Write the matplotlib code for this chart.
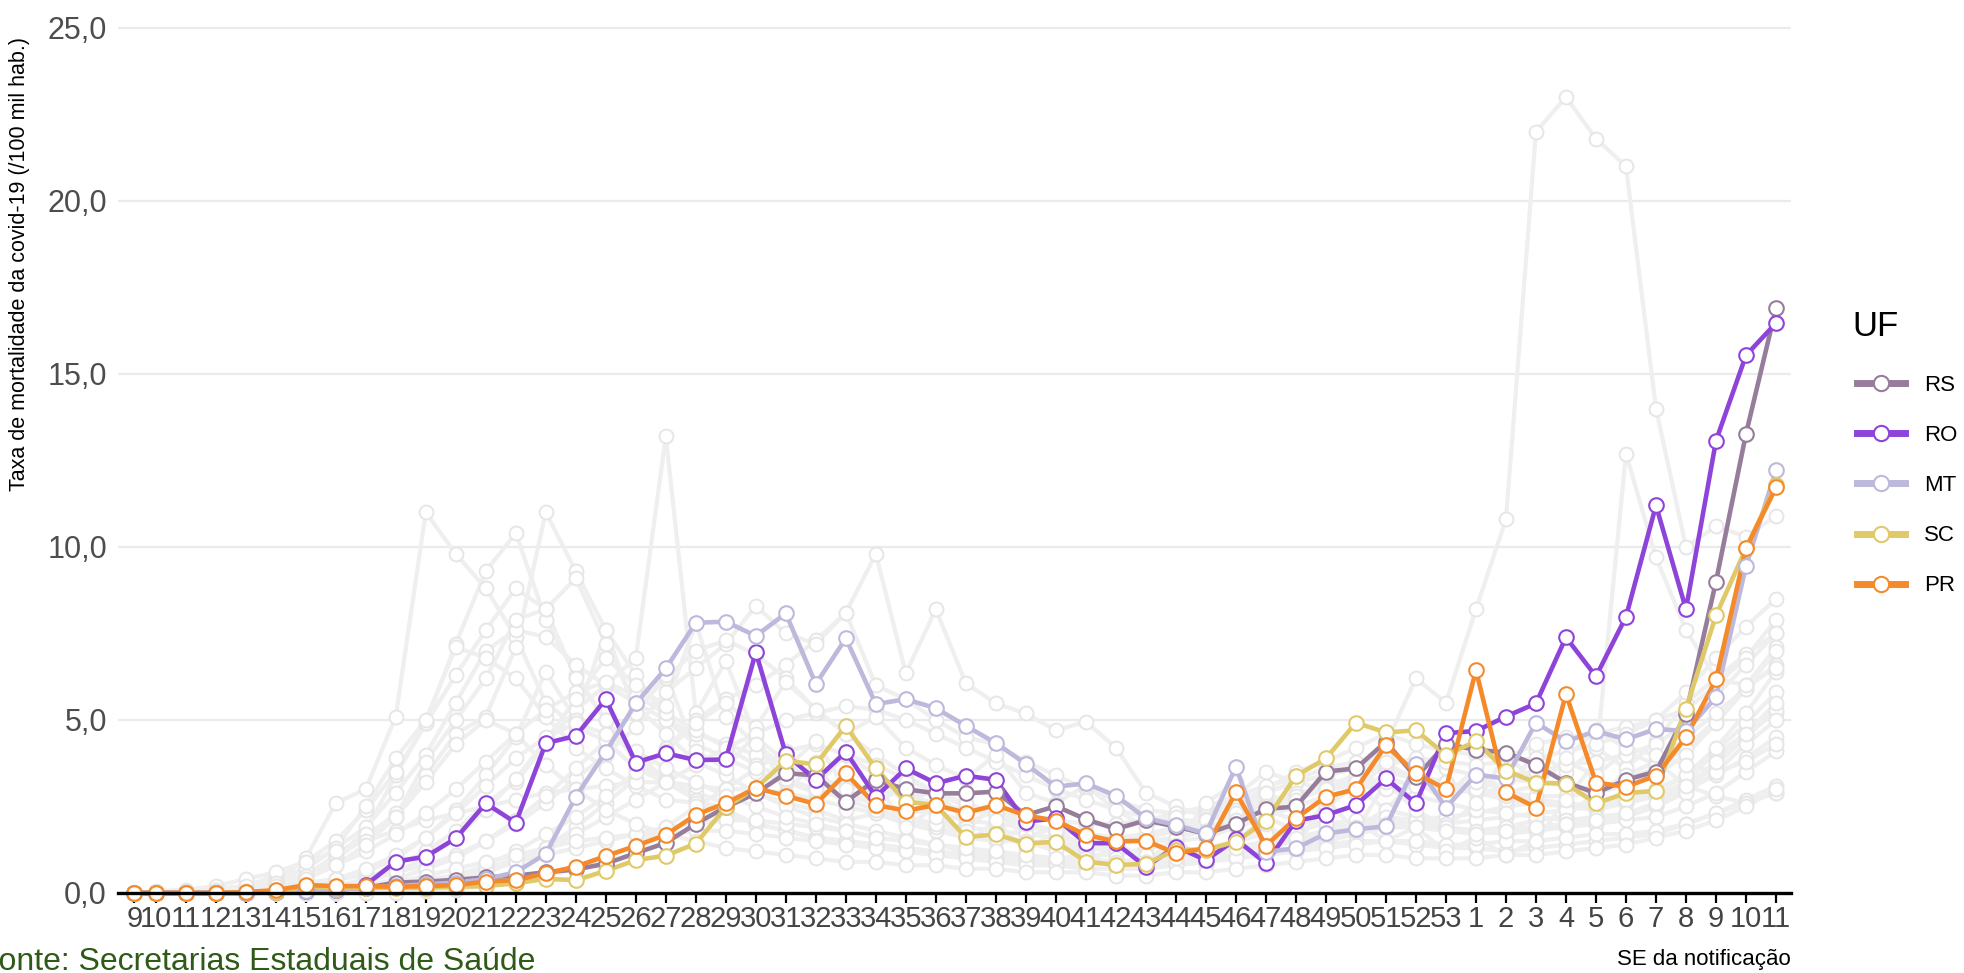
import matplotlib
matplotlib.use("Agg")
import matplotlib.pyplot as plt
import matplotlib.dates as mdates
from matplotlib.lines import Line2D
import numpy as np
import pandas as pd

plt.rcParams['font.family'] = ['Liberation Sans', 'DejaVu Sans']

# ---------------- data ----------------
semanas = [str(w) for w in range(9, 54)] + [str(w) for w in range(1, 12)]
# date of each point (first point: first notification, 2020-02-25; then start of each SE)
datas = [pd.Timestamp("2020-02-25")] + list(pd.date_range("2020-03-01", periods=55, freq="7D"))

uf_destaque = ["RS", "RO", "MT", "SC", "PR"]
cores = {"RS": "#977d9c", "RO": "#8e44d9", "MT": "#bdb9dc", "SC": "#e0c968", "PR": "#f58a2b"}

RS = ([0, 0, 0, 0, 0.02, 0.03, 0.05, 0.10, 0.15, 0.30] +
      [0.33, 0.38, 0.45, 0.50, 0.60, 0.68, 0.85, 1.15, 1.45, 2.00] +
      [2.48, 2.88, 3.46, 3.40, 2.64, 3.27, 3.00, 2.88, 2.88, 2.93] +
      [2.25, 2.51, 2.13, 1.85, 2.10, 1.92, 1.71, 2.00, 2.43, 2.50] +
      [3.51, 3.60, 4.37, 3.34, 4.30] +
      [4.14, 4.06, 3.70, 3.19, 2.89, 3.27, 3.51, 5.18, 9.00, 13.27, 16.90])
RO = ([0, 0, 0, 0, 0, 0.02, 0.05, 0.10, 0.23, 0.91] +
      [1.05, 1.58, 2.59, 2.03, 4.33, 4.54, 5.60, 3.77, 4.04, 3.84] +
      [3.86, 6.96, 4.01, 3.27, 4.08, 2.78, 3.60, 3.17, 3.39, 3.27] +
      [2.06, 2.16, 1.44, 1.44, 0.76, 1.34, 0.95, 1.55, 0.86, 2.09] +
      [2.25, 2.54, 3.31, 2.59, 4.62] +
      [4.68, 5.10, 5.48, 7.39, 6.26, 7.98, 11.20, 8.20, 13.07, 15.54, 16.47])
MT = ([0, 0, 0, 0, 0, 0.02, 0.05, 0.10, 0.15, 0.20] +
      [0.25, 0.30, 0.40, 0.60, 1.13, 2.78, 4.08, 5.48, 6.49, 7.81] +
      [7.84, 7.43, 8.08, 6.04, 7.36, 5.46, 5.60, 5.34, 4.83, 4.33] +
      [3.73, 3.07, 3.17, 2.81, 2.16, 1.97, 1.72, 3.65, 1.19, 1.29] +
      [1.72, 1.84, 1.93, 3.72, 2.47] +
      [3.42, 3.31, 4.92, 4.38, 4.68, 4.44, 4.74, 4.68, 5.66, 9.45, 12.22])
SC = ([0, 0, 0, 0, 0.02, 0.03, 0.20, 0.15, 0.15, 0.15] +
      [0.15, 0.18, 0.20, 0.28, 0.41, 0.37, 0.64, 0.95, 1.08, 1.43] +
      [2.48, 3.03, 3.82, 3.72, 4.83, 3.60, 2.64, 2.54, 1.61, 1.70] +
      [1.43, 1.48, 0.91, 0.81, 0.84, 1.25, 1.25, 1.48, 2.09, 3.38] +
      [3.89, 4.92, 4.64, 4.70, 3.99] +
      [4.38, 3.54, 3.19, 3.16, 2.59, 2.89, 2.95, 5.33, 8.02, 9.96, 11.80])
PR = ([0, 0, 0, 0, 0.03, 0.08, 0.23, 0.20, 0.20, 0.18] +
      [0.20, 0.23, 0.33, 0.37, 0.57, 0.76, 1.07, 1.36, 1.68, 2.26] +
      [2.60, 3.03, 2.81, 2.57, 3.46, 2.54, 2.38, 2.54, 2.32, 2.54] +
      [2.24, 2.09, 1.68, 1.49, 1.51, 1.15, 1.29, 2.91, 1.37, 2.16] +
      [2.78, 3.00, 4.27, 3.46, 3.00] +
      [6.44, 2.91, 2.47, 5.75, 3.19, 3.07, 3.39, 4.50, 6.17, 9.96, 11.72])
destaque = {"RS": RS, "RO": RO, "MT": MT, "SC": SC, "PR": PR}

# other states (grey background)
g01 = ([0, 0, 0, 0, 0.05, 0.30, 1.00, 2.60, 3.00, 5.10] + [11.00, 9.80, 8.80, 7.40, 5.50, 4.80, 4.40, 3.60, 3.20, 2.90] +
       [2.60, 2.90, 2.60, 2.40, 2.10, 2.30, 2.00, 1.80, 1.60, 1.50] + [1.50, 1.30, 1.20, 1.40, 1.60, 1.90, 2.20, 2.80, 3.50, 3.20] +
       [3.00, 3.30, 4.30, 6.20, 5.50] + [8.20, 10.80, 22.00, 23.00, 21.80, 21.00, 14.00, 10.00, 10.60, 10.30, 10.90])
g02 = ([0, 0, 0, 0, 0, 0.10, 0.40, 1.00, 1.80, 3.40] + [4.90, 7.20, 9.30, 10.40, 7.90, 6.30, 5.00, 4.00, 3.30, 2.70] +
       [2.40, 2.00, 1.80, 1.60, 1.50, 1.40, 1.30, 1.20, 1.10, 1.00] + [1.00, 0.90, 0.90, 0.90, 0.80, 0.80, 0.90, 1.00, 1.20, 1.30] +
       [1.50, 1.70, 1.90, 2.10, 2.20] + [2.30, 2.50, 2.60, 2.50, 2.60, 2.80, 3.00, 3.40, 4.00, 4.60, 5.20])
g03 = ([0, 0, 0, 0, 0, 0.20, 0.50, 1.00, 1.60, 2.30] + [3.40, 4.60, 5.10, 7.10, 11.00, 9.30, 7.60, 6.30, 5.00, 4.30] +
       [3.90, 3.50, 3.20, 2.90, 2.80, 2.60, 2.40, 2.30, 2.10, 2.00] + [1.90, 1.80, 1.70, 1.60, 1.50, 1.50, 1.60, 1.90, 2.20, 2.50] +
       [2.80, 3.00, 3.30, 3.10, 3.00] + [2.90, 2.70, 2.60, 2.50, 2.40, 2.60, 2.80, 3.20, 4.10, 4.90, 5.80])
g04 = ([0, 0, 0, 0, 0, 0, 0, 0.20, 0.40, 0.80] + [1.20, 1.80, 2.60, 3.20, 4.30, 5.30, 6.00, 6.80, 13.20, 5.20] +
       [6.70, 4.50, 3.80, 3.10, 4.00, 3.40, 2.60, 3.00, 2.00, 2.40] + [1.60, 1.90, 1.20, 1.50, 0.90, 1.30, 0.80, 1.50, 2.20, 1.80] +
       [2.50, 3.10, 2.40, 3.30, 2.80] + [3.60, 2.90, 4.10, 3.50, 4.20, 3.60, 4.40, 5.50, 6.20, 6.90, 7.50])
g05 = ([0, 0, 0, 0, 0, 0, 0, 0, 0.05, 0.10] + [0.20, 0.40, 0.60, 0.90, 1.30, 1.90, 2.60, 3.30, 4.20, 5.00] +
       [5.60, 6.00, 6.60, 7.30, 8.10, 9.80, 6.35, 8.20, 6.06, 5.48] + [5.19, 4.70, 4.95, 4.20, 2.90, 2.50, 2.20, 2.60, 3.00, 3.50] +
       [3.80, 4.20, 4.60, 4.30, 4.10] + [4.00, 3.90, 4.30, 4.50, 4.60, 4.80, 5.00, 5.30, 6.00, 6.80, 7.90])
g06 = ([0, 0, 0.05, 0.10, 0.15, 0.20, 0.30, 0.40, 0.50, 0.60] + [0.80, 1.10, 1.50, 2.00, 2.60, 3.30, 4.00, 4.80, 5.80, 6.50] +
       [7.20, 8.30, 7.50, 7.20, 8.10, 6.00, 5.60, 5.00, 4.50, 4.30] + [3.80, 3.40, 3.00, 2.70, 2.40, 2.30, 2.40, 2.60, 2.90, 3.20] +
       [3.40, 3.70, 3.90, 3.80, 3.60] + [3.40, 3.30, 3.20, 3.10, 3.00, 3.30, 3.60, 4.20, 5.00, 6.00, 7.10])
g07 = ([0, 0, 0.05, 0.10, 0.20, 0.40, 0.70, 1.30, 1.90, 2.90] + [4.00, 5.50, 7.00, 7.60, 7.40, 6.60, 6.00, 5.50, 5.00, 4.60] +
       [4.30, 4.00, 3.60, 3.30, 3.10, 3.00, 2.80, 2.60, 2.40, 2.30] + [2.20, 2.10, 2.00, 2.00, 2.10, 2.30, 2.50, 2.80, 3.10, 3.30] +
       [3.60, 3.80, 3.60, 3.40, 3.20] + [3.00, 2.80, 2.70, 2.60, 2.50, 2.60, 2.80, 3.00, 3.40, 3.90, 4.50])
g08 = ([0, 0, 0.05, 0.10, 0.20, 0.50, 0.90, 1.50, 2.40, 3.50] + [4.90, 6.30, 7.60, 8.80, 8.20, 6.20, 5.00, 3.80, 3.20, 2.70] +
       [2.30, 2.00, 1.80, 1.60, 1.50, 1.40, 1.20, 1.10, 1.00, 0.90] + [0.90, 0.80, 0.80, 0.90, 1.00, 1.10, 1.20, 1.30, 1.50, 1.60] +
       [1.80, 2.00, 2.10, 2.00, 1.90] + [1.80, 1.70, 1.80, 1.90, 2.00, 2.20, 2.50, 3.00, 3.70, 4.50, 5.30])
g09 = ([0, 0, 0, 0, 0.10, 0.20, 0.50, 1.10, 1.70, 2.20] + [3.80, 5.00, 6.20, 7.90, 8.20, 9.10, 7.20, 5.40, 4.60, 3.80] +
       [3.40, 2.90, 2.50, 2.20, 2.00, 1.80, 1.60, 1.40, 1.20, 1.20] + [1.00, 1.00, 1.10, 1.10, 1.30, 1.40, 2.60, 3.20, 2.40, 2.10] +
       [2.00, 1.90, 2.40, 2.20, 1.90] + [1.80, 1.90, 2.10, 2.20, 2.90, 3.40, 3.80, 3.10, 2.80, 2.60, 2.90])
g10 = ([0, 0, 0, 0, 0.10, 0.30, 0.70, 1.30, 2.50, 3.90] + [5.00, 7.10, 6.80, 6.20, 5.10, 4.20, 3.60, 3.10, 2.70, 2.60] +
       [2.30, 2.00, 1.80, 1.60, 1.50, 1.40, 1.30, 1.20, 1.10, 1.00] + [1.00, 0.90, 0.90, 0.80, 0.80, 0.90, 1.00, 1.10, 1.20, 1.30] +
       [1.40, 1.50, 1.50, 1.40, 1.30] + [1.30, 1.20, 1.30, 1.40, 1.50, 1.60, 1.70, 2.00, 2.30, 2.70, 3.10])
g11 = ([0, 0.05, 0.10, 0.20, 0.40, 0.60, 0.90, 1.20, 1.50, 1.80] + [2.10, 2.30, 2.50, 2.70, 2.90, 3.00, 3.10, 3.20, 3.20, 3.10] +
       [3.00, 3.00, 2.90, 2.70, 2.50, 2.30, 2.10, 1.90, 1.70, 1.60] + [1.50, 1.40, 1.30, 1.20, 1.10, 1.20, 1.30, 1.50, 1.70, 1.80] +
       [2.00, 2.10, 2.20, 2.10, 2.00] + [2.10, 2.20, 2.30, 2.40, 2.50, 2.70, 2.90, 3.40, 4.20, 5.20, 6.40])
g12 = ([0, 0, 0.05, 0.10, 0.20, 0.30, 0.50, 0.80, 1.20, 1.70] + [2.30, 3.00, 3.80, 4.60, 5.30, 5.80, 6.10, 5.70, 5.20, 4.70] +
       [4.20, 3.70, 3.30, 3.00, 2.70, 2.40, 2.20, 2.00, 1.90, 1.80] + [1.70, 1.60, 1.50, 1.50, 1.60, 1.80, 2.10, 2.50, 2.90, 3.20] +
       [3.40, 3.60, 3.50, 3.30, 3.20] + [3.00, 2.90, 2.80, 2.80, 2.90, 3.10, 3.40, 4.00, 4.90, 5.90, 7.00])
g13 = ([0, 0, 0, 0, 0, 0, 0, 0.10, 0.20, 0.40] + [0.70, 1.00, 1.50, 2.10, 2.80, 3.60, 4.40, 5.30, 6.20, 7.00] +
       [7.30, 6.90, 6.20, 5.30, 4.60, 4.00, 3.40, 2.90, 2.50, 2.20] + [2.00, 1.80, 1.70, 1.60, 1.70, 1.90, 2.10, 2.40, 2.60, 2.90] +
       [3.00, 3.10, 3.00, 2.80, 2.60] + [2.40, 2.30, 2.20, 2.10, 2.20, 2.30, 2.50, 2.90, 3.50, 4.30, 5.00])
g14 = ([0, 0, 0, 0, 0, 0, 0, 0, 0.10, 0.20] + [0.30, 0.50, 0.70, 1.00, 1.30, 1.70, 2.20, 2.70, 3.20, 3.70] +
       [4.20, 4.60, 5.00, 5.20, 5.40, 5.30, 5.00, 4.60, 4.20, 3.80] + [3.40, 3.00, 2.70, 2.40, 2.20, 2.10, 2.10, 2.30, 2.50, 2.80] +
       [3.10, 3.40, 3.70, 3.90, 3.80] + [3.70, 3.80, 3.90, 4.10, 4.30, 4.60, 5.00, 5.80, 6.80, 7.70, 8.50])
g15 = ([0, 0, 0, 0, 0, 0, 0, 0, 0, 0.10] + [0.30, 0.50, 0.80, 1.20, 1.70, 2.20, 2.80, 3.50, 4.10, 4.90] +
       [5.50, 4.80, 6.10, 5.30, 4.60, 5.10, 4.20, 3.70, 3.30, 4.00] + [2.90, 2.60, 3.10, 2.40, 1.90, 2.20, 1.80, 2.30, 2.90, 2.50] +
       [3.40, 2.90, 3.80, 3.20, 2.70] + [3.30, 2.90, 3.10, 3.80, 3.40, 4.10, 3.70, 4.50, 5.20, 5.90, 6.60])
g16 = ([0, 0, 0, 0, 0, 0.05, 0.10, 0.15, 0.20, 0.30] + [0.40, 0.50, 0.70, 0.90, 1.10, 1.30, 1.50, 1.70, 1.90, 2.00] +
       [2.10, 2.10, 2.00, 1.90, 1.80, 1.60, 1.50, 1.40, 1.20, 1.10] + [1.00, 0.90, 0.90, 0.80, 0.80, 0.90, 1.00, 1.10, 1.30, 1.50] +
       [1.60, 1.80, 1.90, 1.90, 1.80] + [1.80, 1.90, 1.90, 2.00, 2.00, 2.10, 2.20, 2.50, 2.90, 3.50, 4.10])
g17 = ([0, 0, 0, 0, 0, 0, 0.05, 0.10, 0.20, 0.30] + [0.50, 0.70, 0.90, 1.10, 1.30, 1.50, 1.60, 1.70, 1.70, 1.80] +
       [1.80, 1.70, 1.60, 1.50, 1.40, 1.30, 1.20, 1.10, 1.00, 0.90] + [0.80, 0.80, 0.70, 0.70, 0.70, 0.80, 0.90, 1.00, 1.10, 1.20] +
       [1.30, 1.40, 1.50, 1.50, 1.40] + [1.40, 1.50, 1.50, 1.60, 1.70, 1.70, 1.80, 2.00, 2.30, 2.60, 2.90])
g18 = ([0, 0, 0, 0, 0, 0, 0, 0, 0, 0] + [0.05, 0.10, 0.20, 0.30, 0.50, 0.70, 1.00, 1.40, 1.90, 2.50] +
       [3.00, 3.60, 4.10, 4.30, 4.00, 3.70, 3.30, 2.90, 2.60, 2.30] + [2.00, 1.80, 1.70, 1.60, 1.50, 1.60, 1.80, 2.10, 2.50, 2.70] +
       [3.00, 3.20, 3.30, 3.10, 3.00] + [3.20, 3.40, 3.50, 3.70, 3.80, 4.00, 4.30, 4.90, 5.70, 6.60, 7.50])
g19 = ([0, 0, 0, 0, 0, 0, 0.20, 0.40, 0.60, 1.00] + [1.60, 2.40, 3.40, 4.50, 6.40, 5.00, 7.60, 5.20, 6.30, 4.10] +
       [3.60, 4.60, 2.90, 3.80, 2.40, 3.20, 1.90, 2.50, 1.40, 2.10] + [1.20, 1.80, 0.70, 1.50, 0.90, 1.60, 0.80, 1.40, 2.00, 1.30] +
       [2.70, 1.80, 3.20, 2.40, 1.90] + [2.60, 4.00, 3.20, 3.90, 4.70, 4.20, 4.00, 3.70, 3.50, 3.80, 4.30])
g20 = ([0, 0, 0, 0, 0, 0, 0, 0.10, 0.30, 0.60] + [1.00, 1.60, 2.40, 3.30, 4.40, 5.60, 6.80, 6.00, 5.40, 7.80] +
       [5.10, 4.30, 3.60, 4.40, 3.00, 2.50, 3.20, 2.20, 1.80, 2.60] + [1.50, 1.20, 1.70, 1.00, 0.70, 1.40, 0.90, 1.50, 1.10, 1.70] +
       [1.30, 2.10, 1.50, 1.90, 1.20] + [1.60, 1.10, 1.50, 2.70, 3.80, 12.70, 9.70, 7.60, 6.20, 6.00, 6.50])
g21 = ([0, 0, 0, 0, 0.05, 0.20, 0.40, 0.80, 1.40, 2.20] + [3.20, 4.30, 5.00, 4.60, 3.70, 3.00, 2.40, 2.00, 1.70, 1.50] +
       [1.30, 1.20, 1.10, 1.00, 0.90, 0.90, 0.80, 0.80, 0.70, 0.70] + [0.60, 0.60, 0.60, 0.50, 0.50, 0.60, 0.60, 0.70, 0.80, 0.90] +
       [1.00, 1.10, 1.10, 1.00, 1.00] + [1.00, 1.10, 1.10, 1.20, 1.30, 1.40, 1.60, 1.80, 2.10, 2.50, 3.00])
g22 = ([0, 0, 0, 0, 0, 0.10, 0.20, 0.40, 0.70, 1.10] + [1.60, 2.30, 3.10, 3.90, 4.50, 4.90, 4.60, 4.10, 3.60, 3.20] +
       [2.80, 2.50, 2.20, 2.00, 1.80, 1.60, 1.50, 1.40, 1.30, 1.20] + [1.10, 1.00, 1.00, 0.90, 0.90, 1.00, 1.10, 1.30, 1.40, 1.60] +
       [1.70, 1.90, 2.00, 1.90, 1.80] + [1.70, 1.80, 1.90, 2.00, 2.10, 2.30, 2.60, 3.10, 3.80, 4.60, 5.50])
outros = [g01, g02, g03, g04, g05, g06, g07, g08, g09, g10, g11,
          g12, g13, g14, g15, g16, g17, g18, g19, g20, g21, g22]

y_ticks = [0, 5, 10, 15, 20, 25]

# ---------------- figure ----------------
W, H = 1964, 973
fig = plt.figure(figsize=(W / 100, H / 100), dpi=100)
ax = fig.add_axes([118 / W, (H - 893) / H, (1791 - 118) / W, (893 - 21) / H])

x = mdates.date2num(datas)
gray_line = "#efefef"
gray_edge = "#e6e6e6"
for serie in outros:
    n = min(len(serie), len(x))
    ax.plot(x[:n], serie[:n], color=gray_line, lw=3.0, zorder=2, clip_on=False)
for serie in outros:
    n = min(len(serie), len(x))
    ax.plot(x[:n], serie[:n], ls="none", marker="o", ms=10, mfc="white", mec=gray_edge,
            mew=1.4, zorder=3, clip_on=False)

for uf in uf_destaque:
    s = destaque[uf]
    n = min(len(s), len(x))
    ax.plot(x[:n], s[:n], color=cores[uf], lw=3.3, zorder=4, clip_on=False)
for uf in uf_destaque:
    s = destaque[uf]
    n = min(len(s), len(x))
    ax.plot(x[:n], s[:n], ls="none", marker="o", ms=10.5, mfc="white", mec=cores[uf],
            mew=1.5, zorder=5, clip_on=False)

ax.set_xlim(x[1] - 8.8, x[-1] + 3.5)
ax.set_ylim(0, 25.2)
ax.set_xticks(x)
ax.set_xticklabels(semanas)
ax.set_yticks(y_ticks)
ax.set_yticklabels([f"{v:.1f}".replace(".", ",") for v in y_ticks])

ax.grid(axis="y", color="#ebebeb", lw=1.6, zorder=0)
ax.grid(axis="x", visible=False)
ax.set_axisbelow(True)
for side in ["top", "right", "left"]:
    ax.spines[side].set_visible(False)
ax.spines["bottom"].set_color("black")
ax.spines["bottom"].set_linewidth(2.4)
ax.spines["bottom"].set_zorder(6)

ax.tick_params(axis="x", length=7, width=1.6, color="black", labelsize=21,
               labelcolor="#444444", pad=1.5)
ax.tick_params(axis="y", length=0, labelsize=22, labelcolor="#4d4d4d", pad=8)

fig.text(20 / W, 1 - 37 / H, "Taxa de mortalidade da covid-19 (/100 mil hab.)",
         rotation=90, ha="center", va="top", fontsize=15.5, color="black")
fig.text(1791 / W, 1 - 970 / H, "SE da notificação", ha="right", va="bottom",
         fontsize=16, color="black")
fig.text(-21 / W, 3 / H, "Fonte: Secretarias Estaduais de Saúde", ha="left",
         va="baseline", fontsize=23, color="#2f5a17")

# legend: title drawn as its own text, entries below
fig.text(1852 / W, 1 - 336 / H, "UF", ha="left", va="baseline", fontsize=25, color="black")
handles = [Line2D([0], [0], color=cores[uf], lw=5, marker="o", ms=11, mfc="white",
                  mec=cores[uf], mew=1.5) for uf in uf_destaque]
leg = fig.legend(handles, uf_destaque, loc="upper left",
                 bbox_to_anchor=(1857 / W, 1 - 375 / H), bbox_transform=fig.transFigure,
                 frameon=False, fontsize=16, handlelength=2.16,
                 handletextpad=0.85, labelspacing=1.31, borderpad=0, borderaxespad=0)

fig.savefig("out.png", dpi=100)
